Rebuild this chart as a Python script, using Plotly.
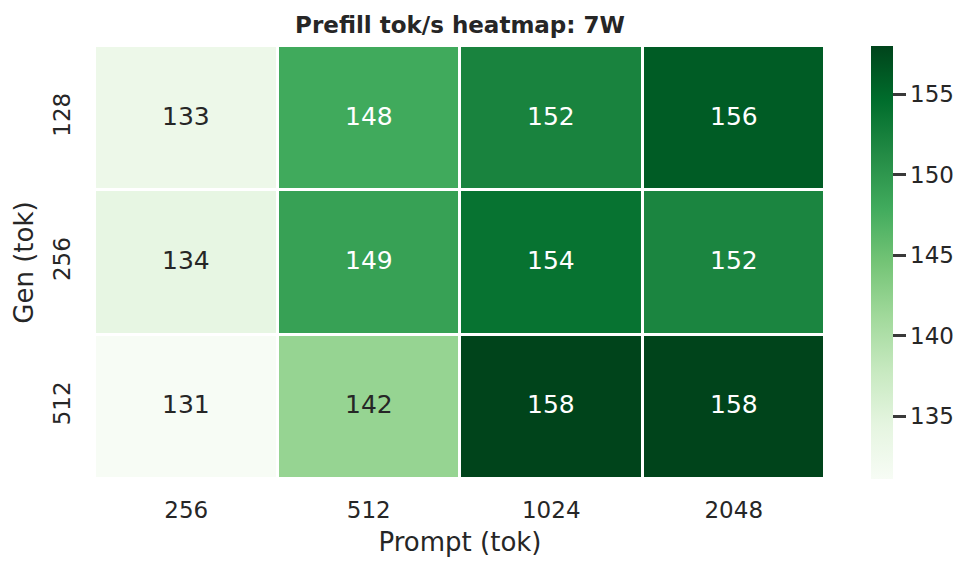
import numpy as np
import plotly.graph_objects as go
import plotly.express as px

# chart data
prompt_tok = ['256', '512', '1024', '2048']
gen_tok = ['128', '256', '512']
tok_s_128 = [133.0, 148.0, 152.2, 156.0]
tok_s_256 = [134.0, 149.0, 154.0, 152.0]
tok_s_512 = [131.1, 142.0, 158.0, 158.0]

z = np.array([tok_s_128, tok_s_256, tok_s_512])
zmin, zmax = z.min(), z.max()

greens = px.colors.sequential.Greens
scale = [[i / (len(greens) - 1), c] for i, c in enumerate(greens)]


def _rgb(s):
    return [int(v) / 255.0 for v in s[s.index('(') + 1:-1].split(',')]


def _cell_color(val):
    # linear interpolation in the colorscale, like matplotlib does
    t = (val - zmin) / (zmax - zmin) * (len(greens) - 1)
    i = min(int(t), len(greens) - 2)
    f = t - i
    a, b = np.array(_rgb(greens[i])), np.array(_rgb(greens[i + 1]))
    return a + (b - a) * f


def _text_color(val):
    # same rule as seaborn's annotated heatmap
    rgb = _cell_color(val)
    rgb = np.where(rgb <= .03928, rgb / 12.92, ((rgb + .055) / 1.055) ** 2.4)
    lum = rgb.dot([.2126, .7152, .0722])
    return '#262626' if lum > .408 else 'white'


# page body adds an 8px offset, so the figure is a bit smaller than the window
W, H = 965, 565
L, R, T, B = 87, 148, 38, 94

fig = go.Figure(go.Heatmap(
    z=z, x=prompt_tok, y=gen_tok,
    colorscale=scale, zmin=zmin, zmax=zmax,
    xgap=3, ygap=3,
    colorbar=dict(
        thickness=22, len=1.0, lenmode='fraction', y=0.5,
        x=(871 - 95) / (W - L - R), xanchor='left', xpad=0, ypad=0,
        outlinewidth=0, ticks='outside', ticklen=13, tickwidth=2.5,
        tickcolor='#3a3a3a', tick0=135, dtick=5,
        tickfont=dict(size=23, color='#262626'),
    ),
    hoverinfo='skip',
))

for r, g in enumerate(gen_tok):
    for c, p in enumerate(prompt_tok):
        fig.add_annotation(
            x=c, y=r, text=f'{z[r, c]:.0f}', showarrow=False, yshift=2,
            font=dict(size=25, color=_text_color(z[r, c])),
        )

fig.update_layout(
    width=W, height=H,
    margin=dict(l=L, r=R, t=T, b=B),
    paper_bgcolor='white', plot_bgcolor='white',
    font=dict(family='DejaVu Sans', color='#262626'),
    title=dict(
        text='<b>Prefill tok/s heatmap: 7W</b>',
        x=(L + W - R) / 2 / W, xanchor='center', y=1 - 17 / H,
        yanchor='middle', font=dict(size=23, color='#262626'),
    ),
    xaxis=dict(
        type='category',
        title=dict(text='Prompt (tok)', font=dict(size=26), standoff=10),
        tickfont=dict(size=23), showgrid=False, zeroline=False,
        ticks='', ticklabelstandoff=15,
    ),
    yaxis=dict(
        type='category',
        title=dict(text='Gen (tok)', font=dict(size=26), standoff=8),
        tickfont=dict(size=23), autorange='reversed', tickangle=-90,
        showgrid=False, zeroline=False, ticks='', ticklabelstandoff=19,
    ),
)

fig.write_html('out.html')
